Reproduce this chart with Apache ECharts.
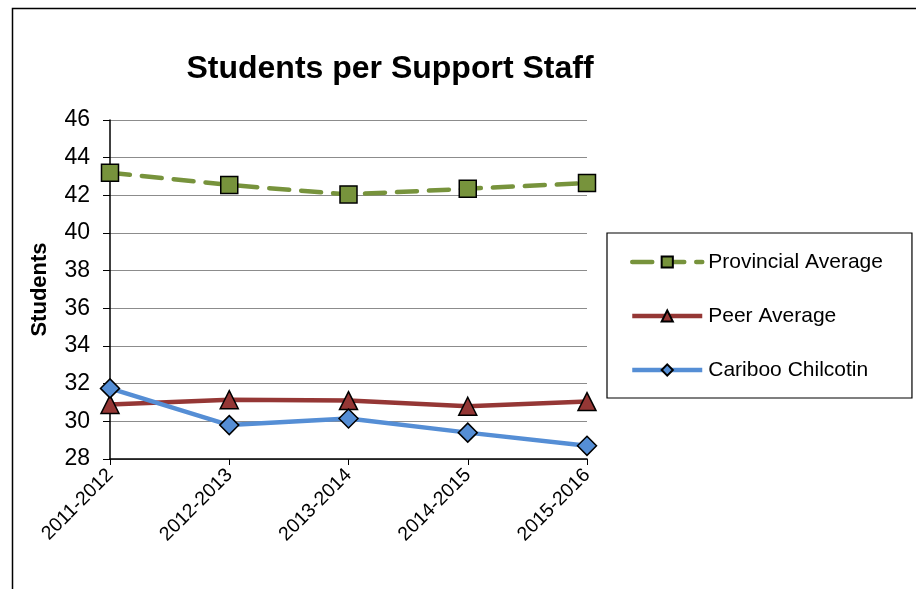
<!DOCTYPE html>
<html><head><meta charset="utf-8">
<script src="https://cdn.jsdelivr.net/npm/echarts@6/dist/echarts.min.js"></script>
<style>html,body{margin:0;padding:0;background:#fff}#c{width:916px;height:589px}</style>
</head><body><div id="c"></div>
<script>
const categories = ['2011-2012','2012-2013','2013-2014','2014-2015','2015-2016'];
const provincial = [43.2, 42.55, 42.05, 42.35, 42.65];
const peer = [30.9, 31.15, 31.1, 30.8, 31.05];
const cariboo = [31.75, 29.8, 30.15, 29.4, 28.7];
const yTicks = {min: 28, max: 46, interval: 2};

const chart = echarts.init(document.getElementById('c'));
const font = 'Liberation Sans, Arial, sans-serif';
chart.setOption({
  animation: false,
  graphic: [{type:'rect', shape:{x:12.5,y:8.5,width:1000,height:1000}, style:{fill:'none', stroke:'#000', lineWidth:1.5}, z:-1}],
  title: {text:'Students per Support Staff', left:385, top:48, textAlign:'center',
    textStyle:{fontFamily:font, fontSize:32, fontWeight:'bold', color:'#000'}},
  grid: {left:110, right:329, top:120, bottom:130},
  legend: {orient:'vertical', left:607, top:233, padding:[17,29,16,23], itemGap:30,
    borderColor:'#000', borderWidth:1.2, itemWidth:70, itemHeight:14,
    lineStyle:{width:4.5},
    textStyle:{fontFamily:font, fontSize:21, lineHeight:24, color:'#000', padding:[0,0,0,1]},
    data:['Provincial Average','Peer Average','Cariboo Chilcotin']},
  xAxis: {type:'category', data:categories, boundaryGap:false,
    axisLine:{lineStyle:{color:'#000', width:1.5}},
    axisTick:{length:6, lineStyle:{color:'#000'}},
    axisLabel:{rotate:45, fontFamily:font, fontSize:19.5, color:'#000', margin:13}},
  yAxis: {type:'value', min:yTicks.min, max:yTicks.max, interval:yTicks.interval,
    name:'Students', nameLocation:'middle', nameGap:59, nameRotate:90,
    nameTextStyle:{fontFamily:font, fontSize:22, fontWeight:'bold', color:'#000'},
    axisLine:{show:true, lineStyle:{color:'#000', width:1.5}},
    axisTick:{show:true, length:7, lineStyle:{color:'#000'}},
    axisLabel:{fontFamily:font, fontSize:23, color:'#000', margin:20},
    splitLine:{lineStyle:{color:'#8c8c8c', width:1.2}}},
  series: [
    {name:'Provincial Average', type:'line', data:provincial, symbol:'rect', symbolSize:17,
      lineStyle:{color:'#77933C', width:4.5, type:[20,12], cap:'round'},
      itemStyle:{color:'#77933C', borderColor:'#000', borderWidth:1.5}},
    {name:'Peer Average', type:'line', data:peer, symbol:'triangle', symbolSize:18,
      lineStyle:{color:'#953735', width:4.5},
      itemStyle:{color:'#953735', borderColor:'#000', borderWidth:1.5}},
    {name:'Cariboo Chilcotin', type:'line', data:cariboo, symbol:'diamond', symbolSize:19,
      lineStyle:{color:'#558ED5', width:4.5},
      itemStyle:{color:'#558ED5', borderColor:'#000', borderWidth:1.5}}
  ]
});
</script></body></html>
